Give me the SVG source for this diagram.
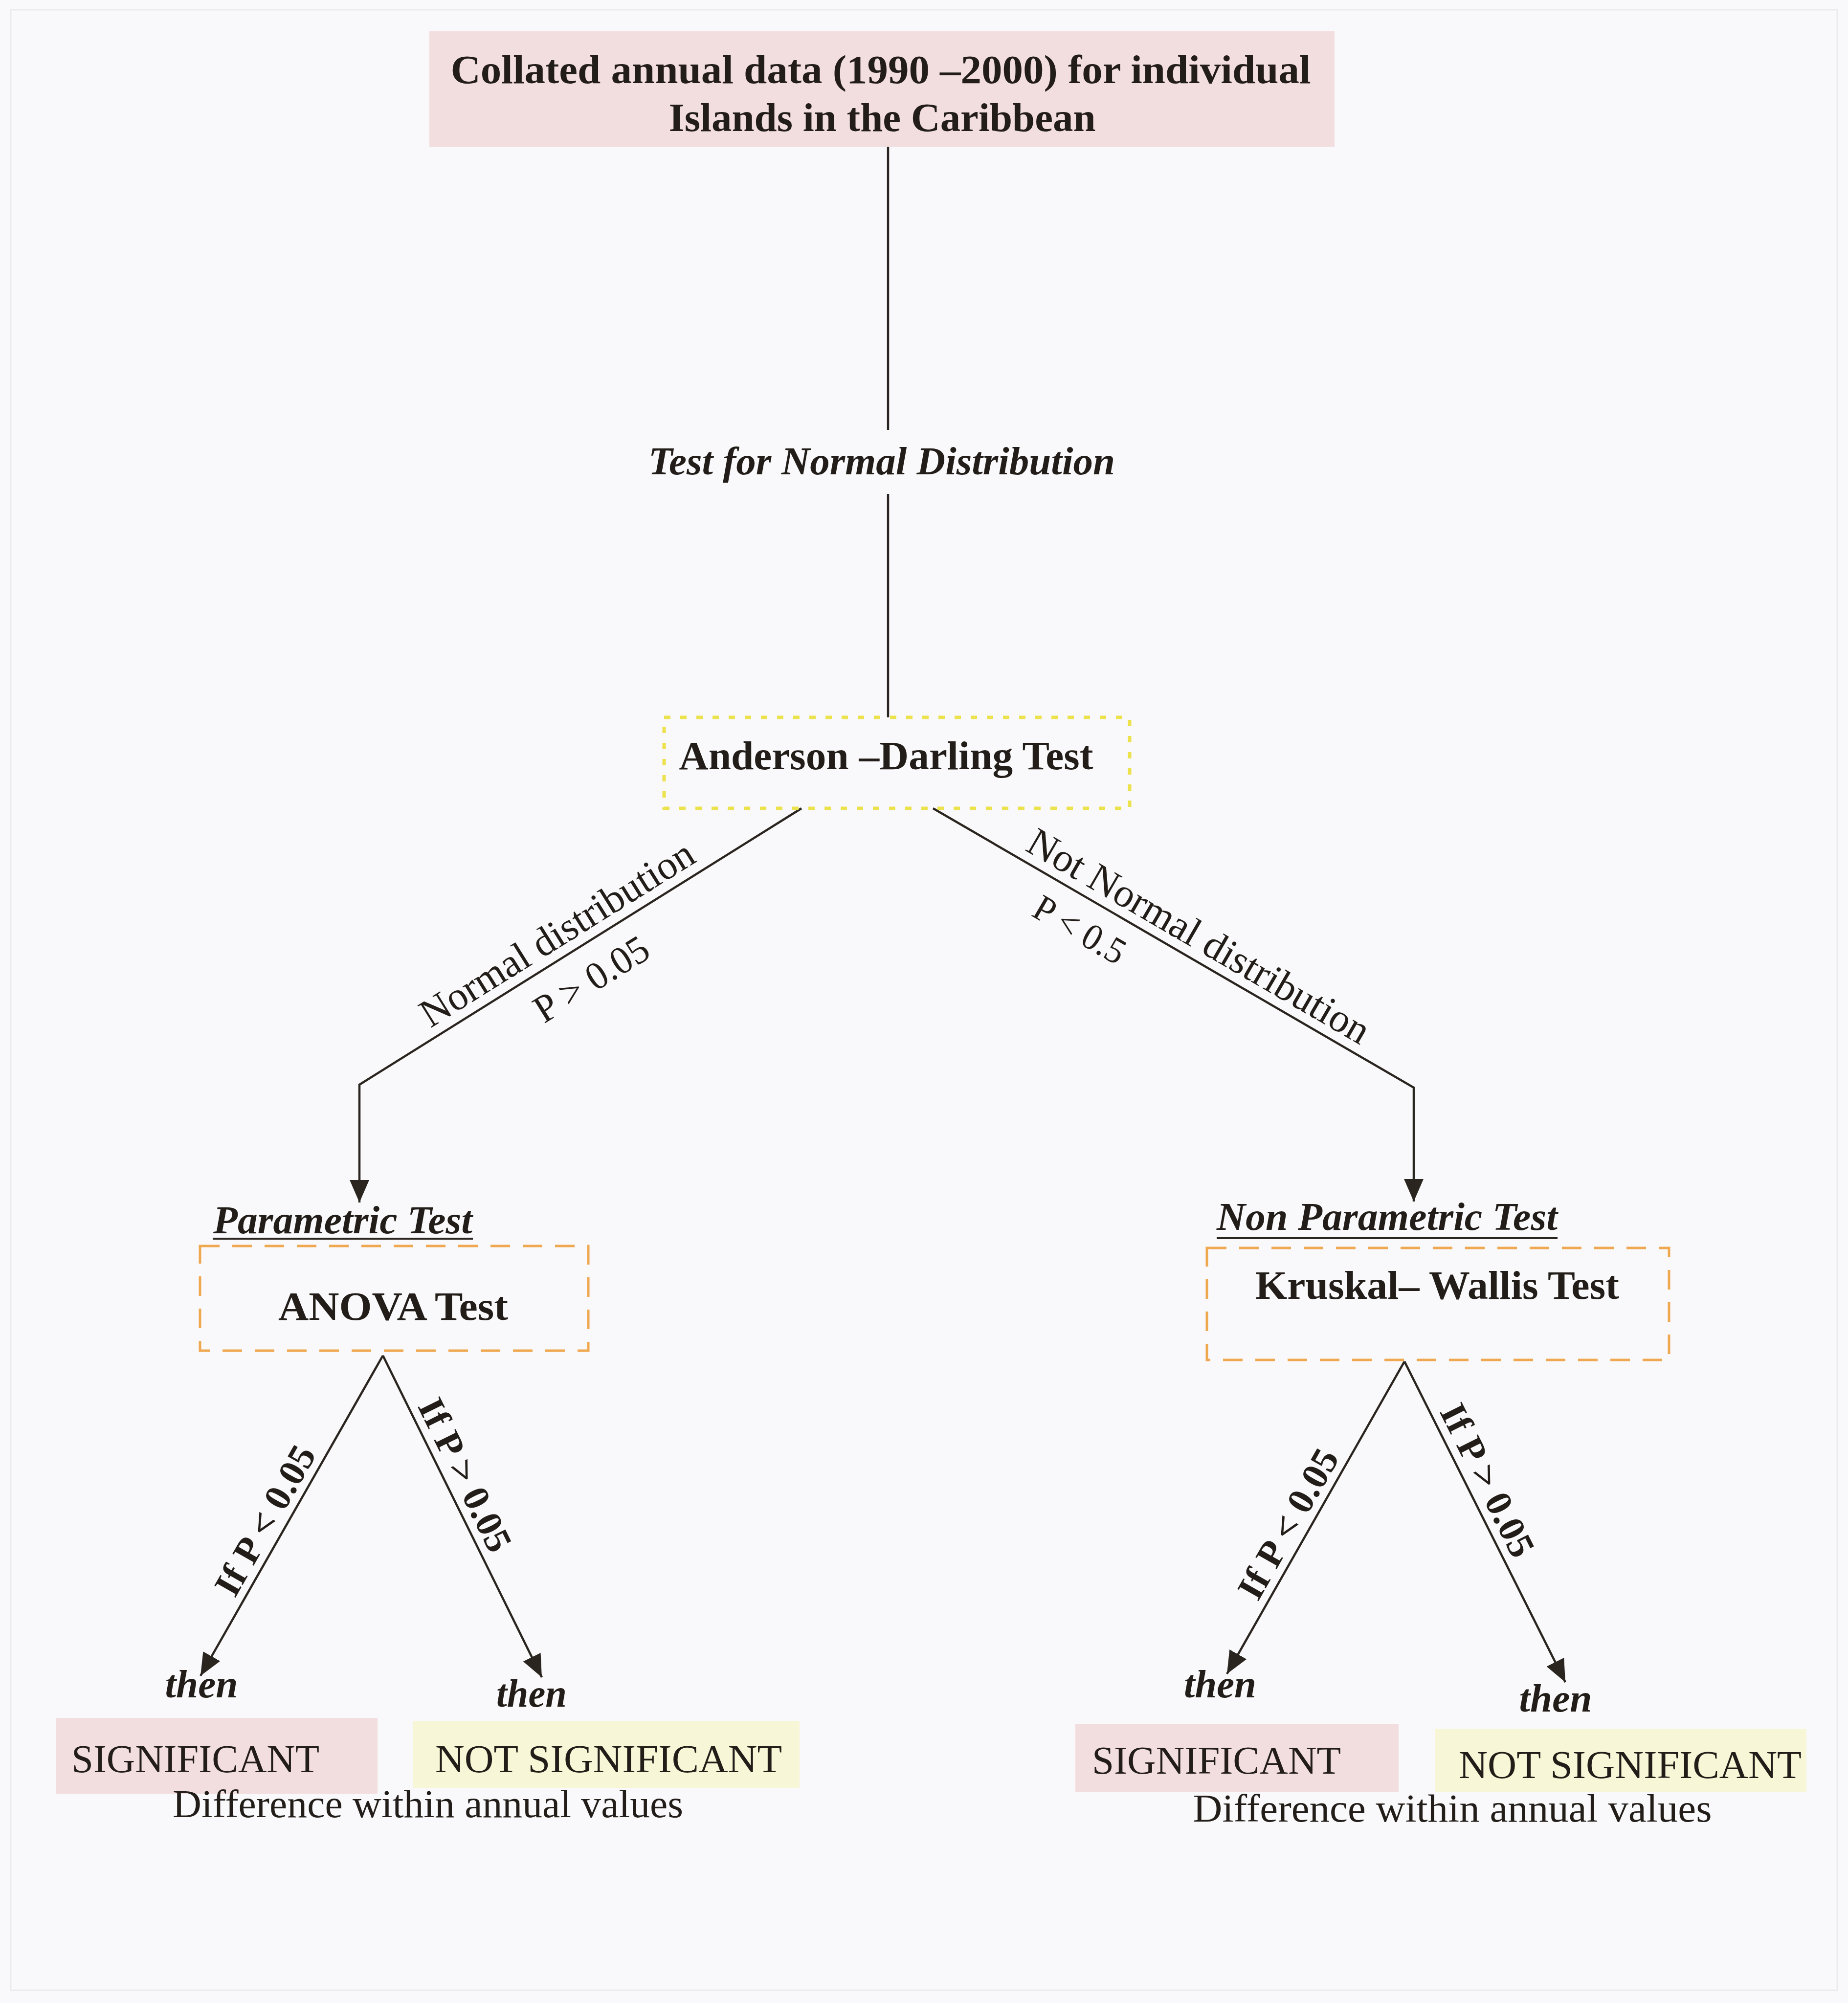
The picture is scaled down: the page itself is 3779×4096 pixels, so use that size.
<svg xmlns="http://www.w3.org/2000/svg" width="3779" height="4096" viewBox="0 0 3779 4096">
<style>
  text { font-family: "Liberation Serif", "Times New Roman", serif; fill: #221d18; }
  .b { font-weight: bold; }
  .bi { font-weight: bold; font-style: italic; }
  .r { font-weight: normal; }
  .c { text-anchor: middle; }
  .fs { font-size: 80px; }
  .ln { stroke: #2b2520; stroke-width: 4.5; fill: none; }
  .yel { fill: none; stroke: #ece24c; stroke-width: 7; stroke-dasharray: 13 20; }
  .org { fill: none; stroke: #f0a850; stroke-width: 5; stroke-dasharray: 40 26; }
  .pink { fill: #f3dedf; }
  .lemon { fill: #f7f6d6; }
</style>
<defs>
  <marker id="ah" viewBox="0 0 46 40" refX="46" refY="20" markerWidth="46" markerHeight="40" markerUnits="userSpaceOnUse" orient="auto">
    <path d="M0,0 L46,20 L0,40 z" fill="#2b2520"/>
  </marker>
</defs>
<rect x="0" y="0" width="3779" height="4096" fill="#f9f9fb"/>
<rect x="22" y="20" width="3735" height="4050" fill="none" stroke="#ececef" stroke-width="3"/>

<g id="connectors">
  <line class="ln" x1="1816" y1="300" x2="1816" y2="879"/>
  <line class="ln" x1="1816" y1="1010" x2="1816" y2="1467"/>
  <polyline class="ln" points="1639,1653 735,2218 735,2459" marker-end="url(#ah)"/>
  <polyline class="ln" points="1908,1653 2891,2224 2891,2457" marker-end="url(#ah)"/>
  <line class="ln" x1="783" y1="2772" x2="410" y2="3427" marker-end="url(#ah)"/>
  <line class="ln" x1="783" y1="2772" x2="1108" y2="3430" marker-end="url(#ah)"/>
  <line class="ln" x1="2872" y1="2784" x2="2509" y2="3423" marker-end="url(#ah)"/>
  <line class="ln" x1="2872" y1="2784" x2="3201" y2="3440" marker-end="url(#ah)"/>
</g>

<g id="connector-labels">
  <text class="r c" font-size="82" transform="translate(1164,1949) rotate(-32)" x="0" y="-20" textLength="645" lengthAdjust="spacingAndGlyphs">Normal distribution</text>
  <text class="r c" font-size="80" transform="translate(1173,1944) rotate(-32)" x="0" y="95" textLength="262" lengthAdjust="spacingAndGlyphs">P &gt; 0.05</text>
  <text class="r c" font-size="82" transform="translate(2428,1955) rotate(30.15)" x="0" y="-20" textLength="795" lengthAdjust="spacingAndGlyphs">Not Normal distribution</text>
  <text class="r c" font-size="76" transform="translate(2240,1846) rotate(30.15)" x="0" y="89" textLength="205" lengthAdjust="spacingAndGlyphs">P &lt; 0.5</text>
  <text class="b c" font-size="76" transform="translate(579,3130) rotate(-60.4)" x="0" y="-17" textLength="340" lengthAdjust="spacingAndGlyphs">If P &lt; 0.05</text>
  <text class="b c" font-size="76" transform="translate(913,3035) rotate(63.7)" x="0" y="-17" textLength="340" lengthAdjust="spacingAndGlyphs">If P &gt; 0.05</text>
  <text class="b c" font-size="76" transform="translate(2671,3137) rotate(-60.4)" x="0" y="-17" textLength="340" lengthAdjust="spacingAndGlyphs">If P &lt; 0.05</text>
  <text class="b c" font-size="76" transform="translate(3004,3046) rotate(63.4)" x="0" y="-17" textLength="340" lengthAdjust="spacingAndGlyphs">If P &gt; 0.05</text>
</g>

<g id="node-collated">
  <rect class="pink" x="878" y="64" width="1851" height="236"/>
  <text class="b c" font-size="82" x="1801" y="170" textLength="1759" lengthAdjust="spacingAndGlyphs">Collated annual  data (1990 –2000)  for individual</text>
  <text class="b c" font-size="82" x="1804" y="268" textLength="873" lengthAdjust="spacingAndGlyphs">Islands in the Caribbean</text>
</g>

<g id="label-test-normal">
  <text class="bi c fs" x="1803" y="970" textLength="954" lengthAdjust="spacingAndGlyphs">Test for Normal Distribution</text>
</g>

<g id="node-anderson">
  <rect class="yel" x="1358" y="1467" width="952" height="186"/>
  <text class="b c" font-size="82" x="1812" y="1573" textLength="847" lengthAdjust="spacingAndGlyphs">Anderson –Darling Test</text>
</g>

<g id="node-anova">
  <text class="bi fs" x="436" y="2522" textLength="530" lengthAdjust="spacingAndGlyphs">Parametric Test</text>
  <line x1="435" y1="2533" x2="967" y2="2533" stroke="#2b2520" stroke-width="4"/>
  <rect class="org" x="409" y="2548" width="794" height="214"/>
  <text class="b c" font-size="82" x="804" y="2699" textLength="470" lengthAdjust="spacingAndGlyphs">ANOVA Test</text>
</g>

<g id="node-kruskal">
  <text class="bi fs" x="2488" y="2515" textLength="697" lengthAdjust="spacingAndGlyphs">Non Parametric Test</text>
  <line x1="2488" y1="2532" x2="3185" y2="2532" stroke="#2b2520" stroke-width="4"/>
  <rect class="org" x="2468" y="2552" width="945" height="229"/>
  <text class="b c" font-size="82" x="2939" y="2656" textLength="744" lengthAdjust="spacingAndGlyphs">Kruskal– Wallis Test</text>
</g>

<g id="node-anova-significant">
  <text class="bi c fs" x="412" y="3471" textLength="149" lengthAdjust="spacingAndGlyphs">then</text>
  <rect class="pink" x="115" y="3513" width="657" height="155"/>
  <text class="r fs" x="146" y="3624" textLength="507" lengthAdjust="spacingAndGlyphs">SIGNIFICANT</text>
</g>

<g id="node-anova-not-significant">
  <text class="bi c fs" x="1087" y="3490" textLength="144" lengthAdjust="spacingAndGlyphs">then</text>
  <rect class="lemon" x="844" y="3519" width="791" height="137"/>
  <text class="r fs" x="890" y="3624" textLength="709" lengthAdjust="spacingAndGlyphs">NOT SIGNIFICANT</text>
</g>

<g id="label-anova-difference">
  <text class="r c fs" x="875" y="3716" textLength="1044" lengthAdjust="spacingAndGlyphs">Difference within annual values</text>
</g>

<g id="node-kruskal-significant">
  <text class="bi c fs" x="2495" y="3471" textLength="148" lengthAdjust="spacingAndGlyphs">then</text>
  <rect class="pink" x="2199" y="3525" width="661" height="140"/>
  <text class="r fs" x="2233" y="3627" textLength="509" lengthAdjust="spacingAndGlyphs">SIGNIFICANT</text>
</g>

<g id="node-kruskal-not-significant">
  <text class="bi c fs" x="3181" y="3500" textLength="149" lengthAdjust="spacingAndGlyphs">then</text>
  <rect class="lemon" x="2934" y="3535" width="760" height="130"/>
  <text class="r fs" x="2983" y="3636" textLength="701" lengthAdjust="spacingAndGlyphs">NOT SIGNIFICANT</text>
</g>

<g id="label-kruskal-difference">
  <text class="r c fs" x="2970" y="3725" textLength="1061" lengthAdjust="spacingAndGlyphs">Difference within annual values</text>
</g>
</svg>
